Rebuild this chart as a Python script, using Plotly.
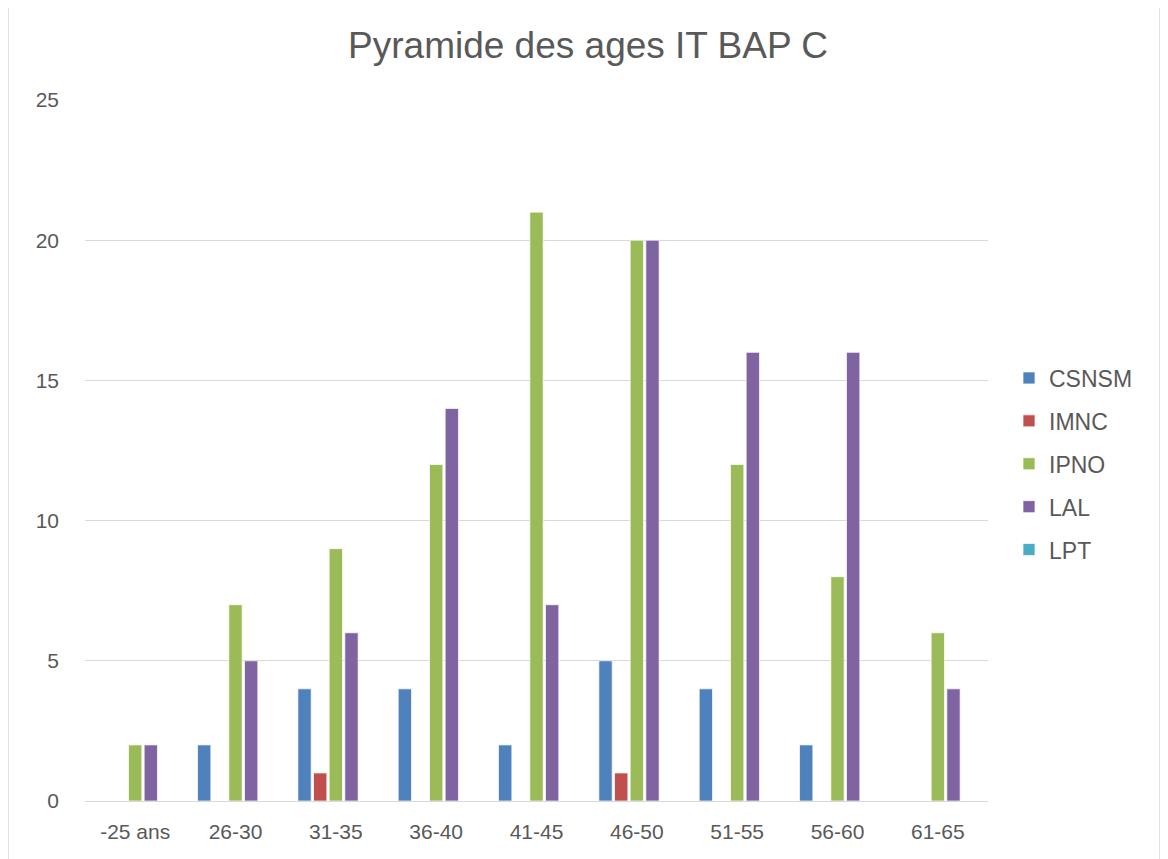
import plotly.graph_objects as go

categories = ["-25 ans", "26-30", "31-35", "36-40", "41-45", "46-50", "51-55", "56-60", "61-65"]
series_names = ["CSNSM", "IMNC", "IPNO", "LAL", "LPT"]
csnsm = [0, 2, 4, 4, 2, 5, 4, 2, 0]
imnc = [0, 0, 1, 0, 0, 1, 0, 0, 0]
ipno = [2, 7, 9, 12, 21, 20, 12, 8, 6]
lal = [2, 5, 6, 14, 7, 20, 16, 16, 4]
lpt = [0, 0, 0, 0, 0, 0, 0, 0, 0]
colors = ["#4f81bd", "#c0504d", "#9bbb59", "#8064a2", "#4bacc6"]

fig = go.Figure()
for name, vals, col in zip(series_names, [csnsm, imnc, ipno, lal, lpt], colors):
    fig.add_trace(go.Bar(
        x=categories, y=vals, name=name, legendgroup=name,
        marker=dict(color=col, line=dict(color="rgba(255,255,255,0.7)", width=1)),
    ))

# page has an 8px body margin; figure coordinates = page - 8
OFF = 8
W, H = 1168, 859
L, T = 85 - OFF, 100 - OFF
R = W - (988 - OFF)
B = H - (801 - OFF)
pw, ph = W - L - R, H - T - B

def px(xpage):
    return (xpage - OFF - L) / pw

def py(ypage):
    return (801 - ypage) / ph

fig.update_layout(
    width=W, height=H,
    margin=dict(l=L, r=R, t=T, b=B),
    paper_bgcolor="white", plot_bgcolor="white",
    font=dict(family="Liberation Sans, Arial, sans-serif", color="#595959", size=21),
    title=dict(text="Pyramide des ages IT BAP C", x=(588 - OFF) / W, xanchor="center",
               xref="container", y=1 - (45 - OFF) / H, yanchor="middle",
               font=dict(size=37, color="#595959")),
    barmode="group", bargap=0.22, bargroupgap=0.15,
    showlegend=True,
    legend=dict(x=px(1009), xanchor="left", y=py(464), yanchor="middle",
                font=dict(size=23, color="#595959"), tracegroupgap=10,
                bgcolor="rgba(0,0,0,0)"),
    xaxis=dict(showgrid=False, showline=True, linecolor="#d9d9d9", linewidth=1,
               ticks="", tickfont=dict(size=21), ticklabelstandoff=12),
    yaxis=dict(range=[0, 25], dtick=5, showgrid=True, gridcolor="#d9d9d9", gridwidth=1,
               zeroline=False, showline=False, ticks="", tickfont=dict(size=21),
               ticklabelstandoff=25),
    shapes=[dict(type="rect", xref="paper", yref="paper",
                 x0=px(8), x1=px(1160),
                 y0=py(880), y1=py(2),
                 line=dict(color="#d9d9d9", width=1.5), fillcolor="rgba(0,0,0,0)",
                 layer="below")],
)

fig.write_html("out.html")
